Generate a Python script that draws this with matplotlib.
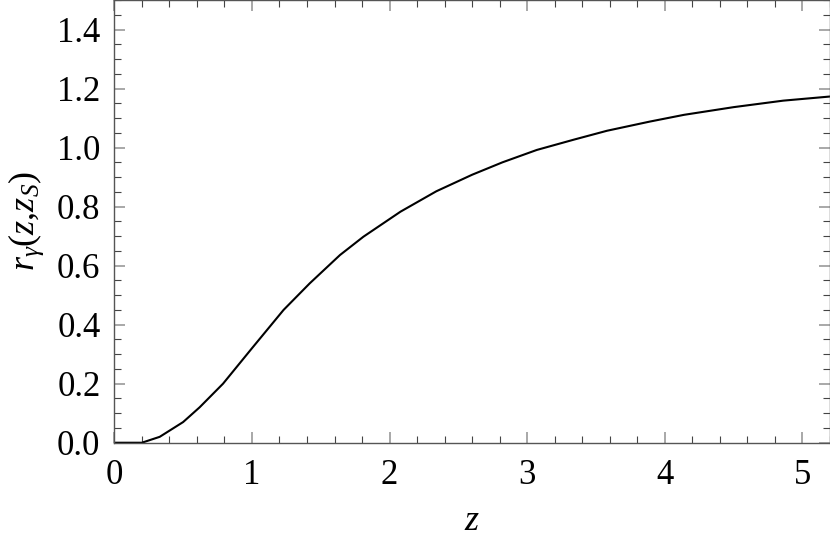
#!/usr/bin/env python3
"""r_gamma(z, z_S) versus redshift z, Mathematica-style frame."""

import matplotlib
matplotlib.use("Agg")
import matplotlib.pyplot as plt
from matplotlib.ticker import MultipleLocator

# curve
z_vals = [0.0, 0.2, 0.33, 0.5, 0.62, 0.79, 1.0, 1.23, 1.42, 1.64, 1.81,
          2.08, 2.34, 2.6, 2.82, 3.07, 3.34, 3.58, 3.89, 4.14, 4.5, 4.86, 5.2]
r_vals = [0.0, 0.0, 0.02, 0.07, 0.12, 0.20, 0.32, 0.45, 0.54, 0.636, 0.698,
          0.783, 0.852, 0.908, 0.950, 0.992, 1.027, 1.057, 1.088, 1.111,
          1.137, 1.159, 1.173]

x_ticks = [0, 1, 2, 3, 4, 5]
y_ticks = [0.0, 0.2, 0.4, 0.6, 0.8, 1.0, 1.2, 1.4]

plt.rcParams["font.family"] = ["Liberation Serif", "DejaVu Serif"]
plt.rcParams["mathtext.fontset"] = "custom"
plt.rcParams["mathtext.rm"] = "Liberation Serif"
plt.rcParams["mathtext.it"] = "Liberation Serif:italic"

fig = plt.figure(figsize=(8.3, 5.48), dpi=100)
ax = fig.add_axes([0.1377, 0.1921, 0.8623, 0.8079])

ax.plot(z_vals, r_vals, color="black", linewidth=1.5)

ax.set_xlim(0, 5.2)
ax.set_ylim(0, 1.5)
ax.set_xticks(x_ticks)
ax.set_yticks(y_ticks)
ax.set_xticklabels([str(t) for t in x_ticks])
ax.set_yticklabels([f"{t:.1f}" for t in y_ticks])
ax.xaxis.set_minor_locator(MultipleLocator(0.2))
ax.yaxis.set_minor_locator(MultipleLocator(0.05))

for side in ax.spines.values():
    side.set_color("#555555")
    side.set_linewidth(1.0)

ax.tick_params(which="both", direction="in", top=True, right=True,
               labeltop=False, labelright=False)
ax.tick_params(which="major", length=8, width=1.2, color="#999999",
               labelsize=25, pad=10)
ax.tick_params(axis="x", which="major", pad=12)
ax.tick_params(which="minor", length=5, width=0.8, color="#444444")

ax.set_xlabel(r"$z$", fontsize=26, labelpad=9)
ax.set_ylabel(r"$r_\gamma(z{,}z_S)$", fontsize=26, labelpad=8)

fig.savefig("out.png", dpi=100, facecolor="white")
